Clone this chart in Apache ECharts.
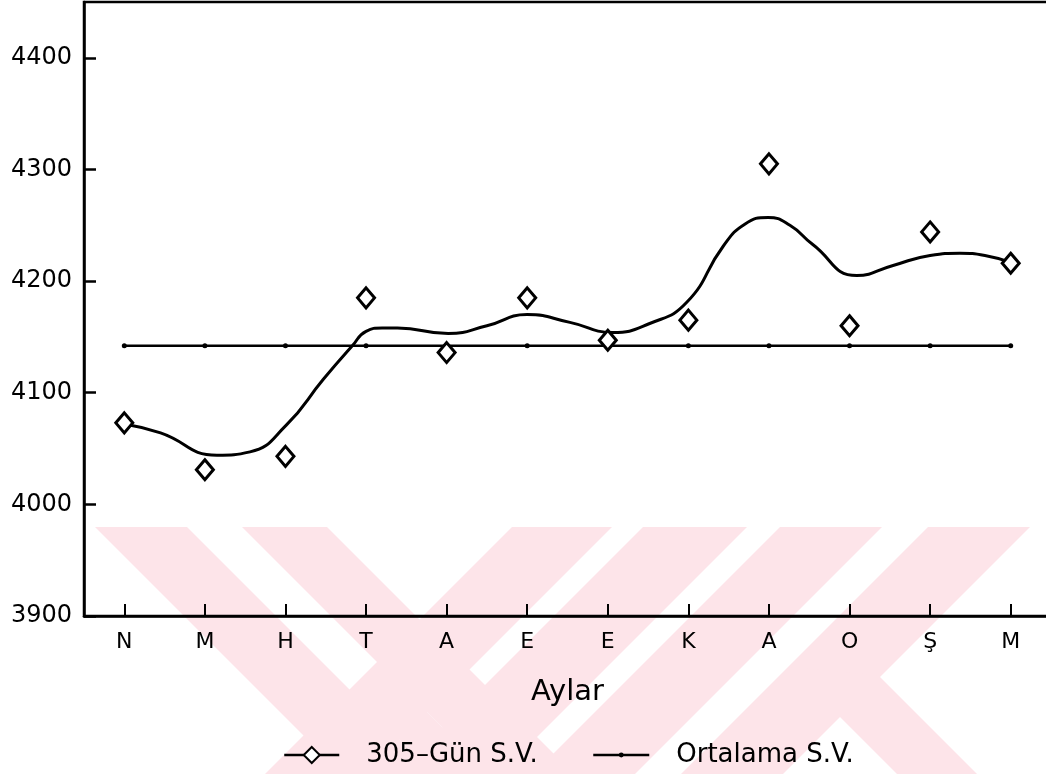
<!DOCTYPE html>
<html>
<head>
<meta charset="utf-8">
<script src="https://cdn.jsdelivr.net/npm/echarts@6/dist/echarts.min.js"></script>
<style>html,body{margin:0;padding:0;background:#fff}#c{width:1046px;height:774px}</style>
</head>
<body>
<div id="c"></div>
<script>
// ---- data ----
const months = ['N', 'M', 'H', 'T', 'A', 'E', 'E', 'K', 'A', 'O', 'Ş', 'M'];
const gun305 = [4073, 4031, 4043, 4185, 4136, 4185, 4147, 4165, 4305, 4160, 4244, 4216];
const ortalama = [4142, 4142, 4142, 4142, 4142, 4142, 4142, 4142, 4142, 4142, 4142, 4142];
// smoothed trend curve: [month position, value]
const trendX = [0, 0.45, 1.15, 1.56, 2.01, 2.47, 2.83, 3.0, 3.2, 3.39, 4.02, 4.5, 5.0, 5.53, 6.06, 6.52, 6.98, 7.43, 7.7, 7.99, 8.26, 8.54, 9.09, 9.54, 10.0, 10.37, 10.68, 10.99];
const trendY = [4072, 4064, 4044, 4047, 4071, 4112, 4142, 4155, 4158, 4158, 4153, 4160, 4170, 4163, 4154, 4162, 4181, 4231, 4251, 4257, 4250, 4233, 4205, 4214, 4223, 4225, 4223, 4217];
const yTicks = [3900, 4000, 4100, 4200, 4300, 4400];
const xTitle = 'Aylar';
const name1 = '305–Gün S.V.';
const name2 = 'Ortalama S.V.';

const trend = trendX.map((x, i) => [x, trendY[i]]);
const FONT = 'DejaVu Sans';
const PINK = '#fde4e9';

function band(pts) {
  return { type: 'polygon', z: -10, silent: true, shape: { points: pts }, style: { fill: PINK } };
}

const legendCommon = {
  selectedMode: false, orient: 'horizontal', padding: 0,
  lineStyle: { color: '#000', width: 2.5 },
  textStyle: { fontFamily: FONT, fontSize: 26, color: '#000', padding: [0, 0, 0, 22] }
};

const chart = echarts.init(document.getElementById('c'), null, { renderer: 'canvas' });
chart.setOption({
  animation: false,
  color: ['#000000', '#000000', '#000000'],
  grid: { left: 84, top: 2, width: 967, height: 614, outerBoundsMode: 'none', containLabel: false,
          show: true, borderColor: '#000', borderWidth: 2.5, backgroundColor: 'transparent' },
  graphic: [
    band([[95, 527], [187, 527], [434, 774], [342, 774]]),
    band([[242, 527], [327, 527], [574, 774], [489, 774]]),
    band([[350, 690], [405, 690], [489, 774], [434, 774]]),
    band([[512, 527], [612, 527], [365, 774], [265, 774]]),
    band([[643, 527], [747, 527], [500, 774], [396, 774]]),
    band([[780, 527], [882, 527], [635, 774], [533, 774]]),
    band([[928, 527], [1030, 527], [783, 774], [681, 774]]),
    band([[790, 667], [878.5, 675.5], [977, 774], [897, 774]])
  ],
  legend: [
    Object.assign({ left: 283, top: 742, itemWidth: 55, itemHeight: 20, data: [name1] }, legendCommon),
    Object.assign({ left: 592, top: 742, itemWidth: 56, itemHeight: 6, data: [name2] }, legendCommon)
  ],
  xAxis: [
    {
      type: 'category', data: months, boundaryGap: true,
      name: xTitle, nameLocation: 'middle', nameGap: 62,
      nameTextStyle: { fontFamily: FONT, fontSize: 29, color: '#000' },
      axisLine: { show: true, onZero: false, lineStyle: { color: '#000', width: 2.5 } },
      axisTick: { show: true, inside: true, alignWithLabel: true, length: 12, lineStyle: { color: '#000', width: 2 } },
      axisLabel: { fontFamily: FONT, fontSize: 22, color: '#000', margin: 15, interval: 0 },
      splitLine: { show: false }
    },
    { type: 'value', min: -0.5, max: 11.5, show: false, splitLine: { show: false },
      axisLine: { show: false, onZero: false } }
  ],
  yAxis: {
    type: 'value', min: 3900, max: 4450, interval: 100,
    axisLine: { show: true, onZero: false, lineStyle: { color: '#000', width: 2.5 } },
    axisTick: { show: true, inside: true, length: 12, customValues: yTicks, lineStyle: { color: '#000', width: 2.5 } },
    axisLabel: { fontFamily: FONT, fontSize: 24, color: '#000', margin: 12, customValues: yTicks,
                 formatter: v => String(v) },
    splitLine: { show: false }
  },
  series: [
    {
      name: name1, type: 'line', xAxisIndex: 1, data: trend, smooth: 0.5,
      showSymbol: false, symbol: 'emptyDiamond',
      itemStyle: { color: '#000' },
      lineStyle: { color: '#000', width: 3 }, z: 3
    },
    {
      name: name1, type: 'scatter', xAxisIndex: 0, data: gun305,
      symbol: 'diamond', symbolSize: [17, 20],
      itemStyle: { color: '#fff', borderColor: '#000', borderWidth: 3, opacity: 1 }, z: 4
    },
    {
      name: name2, type: 'line', xAxisIndex: 0, data: ortalama,
      symbol: 'circle', symbolSize: 5, showSymbol: true,
      itemStyle: { color: '#000' },
      lineStyle: { color: '#000', width: 2.5 }, z: 2
    }
  ]
});
</script>
</body>
</html>
